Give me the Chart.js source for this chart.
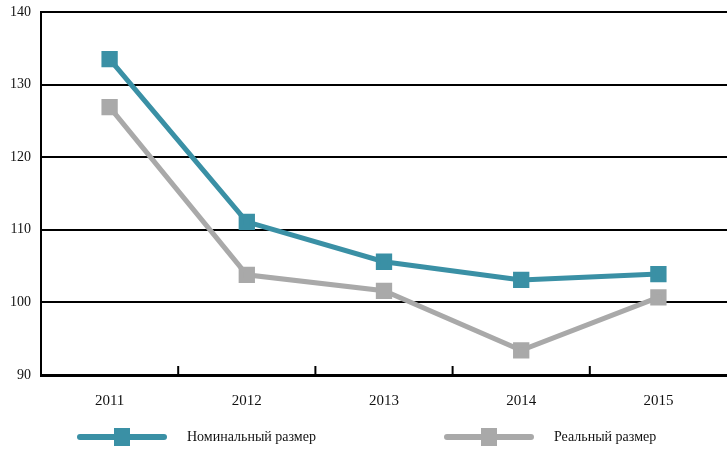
<!DOCTYPE html>
<html>
<head>
<meta charset="utf-8">
<script src="https://cdn.jsdelivr.net/npm/chart.js@4"></script>
<style>
  html, body { margin: 0; padding: 0; background: #fff; overflow: hidden; }
  canvas { display: block; }
</style>
</head>
<body>
<canvas id="myChart" width="727" height="452"></canvas>
<script>
'use strict';

const years = ['2011', '2012', '2013', '2014', '2015'];
const nominal = [133.5, 111.1, 105.6, 103.1, 103.9];
const real = [126.9, 103.8, 101.6, 93.4, 100.7];
const seriesNames = ['Номинальный размер', 'Реальный размер'];
const yTicks = [90, 100, 110, 120, 130, 140];

const teal = '#3a90a5';
const grey = '#a9a9a9';

// small upward ticks on the x axis, between categories
const innerTicks = {
  id: 'innerTicks',
  afterDraw: function(chart) {
    const x = chart.scales.x;
    const ctx = chart.ctx;
    ctx.save();
    ctx.strokeStyle = '#000';
    ctx.lineWidth = 2;
    for (let i = 0; i < years.length - 1; i++) {
      const px = (x.getPixelForTick(i) + x.getPixelForTick(i + 1)) / 2;
      ctx.beginPath();
      ctx.moveTo(px, x.top);
      ctx.lineTo(px, x.top - 9);
      ctx.stroke();
    }
    ctx.restore();
  }
};

// legend drawn as line + square marker, like the original
const lineLegend = {
  id: 'lineLegend',
  afterDraw: function(chart) {
    const ctx = chart.ctx;
    const spots = [80, 447];
    ctx.save();
    chart.data.datasets.forEach(function(ds, i) {
      const x0 = spots[i];
      const y0 = 437;
      ctx.strokeStyle = ds.borderColor;
      ctx.lineWidth = 6;
      ctx.lineCap = 'round';
      ctx.beginPath();
      ctx.moveTo(x0, y0);
      ctx.lineTo(x0 + 84, y0);
      ctx.stroke();
      ctx.fillStyle = ds.pointBackgroundColor;
      ctx.fillRect(x0 + 34, y0 - 9, 16, 18);
      ctx.fillStyle = '#111';
      ctx.font = '14px "Liberation Serif"';
      ctx.textBaseline = 'middle';
      ctx.fillText(ds.label, x0 + 107, y0);
    });
    ctx.restore();
  }
};

const makeSet = function(label, data, color) {
  return {
    label: label,
    data: data,
    borderColor: color,
    backgroundColor: color,
    pointBackgroundColor: color,
    pointBorderColor: color,
    borderWidth: 5,
    pointStyle: 'rect',
    pointRadius: 8,
    pointHoverRadius: 8,
    tension: 0,
    clip: false
  };
};

const displayChart = function() {
  const ctx = document.getElementById('myChart');
  new Chart(ctx, {
    type: 'line',
    data: {
      labels: years,
      datasets: [
        makeSet(seriesNames[0], nominal, teal),
        makeSet(seriesNames[1], real, grey)
      ]
    },
    options: {
      responsive: false,
      animation: false,
      layout: { autoPadding: false, padding: { top: 12, right: 0, bottom: 33, left: 0 } },
      plugins: { legend: { display: false }, tooltip: { enabled: false } },
      scales: {
        x: {
          offset: true,
          afterFit: function(scale) { scale.paddingLeft = 0; scale.paddingRight = 0; },
          grid: { display: false },
          border: { color: '#000', width: 3 },
          ticks: {
            color: '#111',
            font: { family: 'Liberation Serif', size: 15 },
            padding: 9
          }
        },
        y: {
          min: 90,
          max: 140,
          afterFit: function(scale) {
            scale.width = 41;
            scale.paddingTop = 0;
            scale.paddingBottom = 0;
          },
          afterBuildTicks: function(scale) {
            scale.ticks = yTicks.map(function(v) { return { value: v }; });
          },
          grid: { color: '#000', lineWidth: 2, drawTicks: false },
          border: { color: '#000', width: 2 },
          ticks: {
            color: '#111',
            font: { family: 'Liberation Serif', size: 14 },
            padding: 10
          }
        }
      }
    },
    plugins: [innerTicks, lineLegend]
  });
};

document.addEventListener('DOMContentLoaded', function() {
  displayChart();
});
</script>
</body>
</html>
